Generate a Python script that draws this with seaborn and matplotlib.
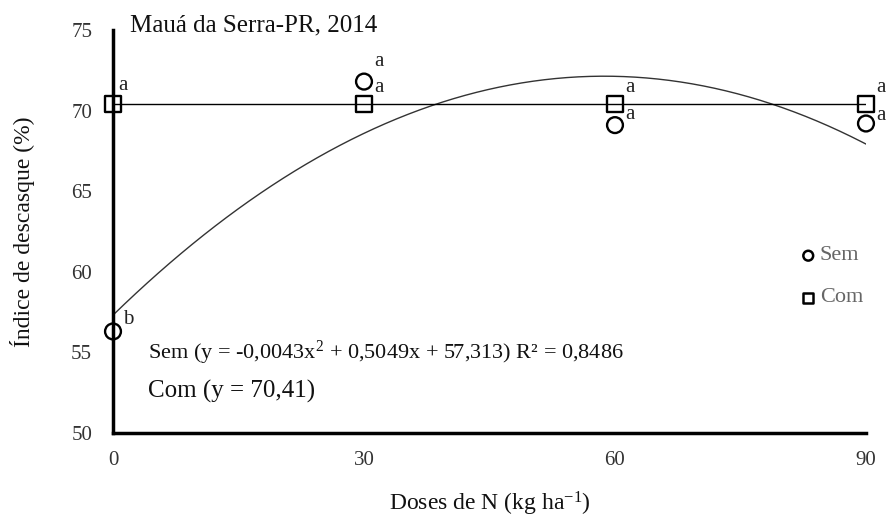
import numpy as np
import pandas as pd
import matplotlib.pyplot as plt
import seaborn as sns

doses = [0, 30, 60, 90]
sem = [56.3, 71.8, 69.1, 69.2]
com = [70.41, 70.41, 70.41, 70.41]
letras_sem = ['b', 'a', 'a', 'a']
letras_com = ['a', 'a', 'a', 'a']
coef_sem = [-0.0043, 0.5049, 57.313]
media_com = 70.41

df = pd.DataFrame({
    'Dose': doses * 2,
    'Indice': sem + com,
    'Manejo': ['Sem'] * 4 + ['Com'] * 4,
})

sns.set_theme(style="white")
plt.rcParams['font.family'] = ['Liberation Serif', 'DejaVu Serif']
plt.rcParams['mathtext.fontset'] = 'custom'
plt.rcParams['mathtext.rm'] = 'Liberation Serif'
plt.rcParams['mathtext.it'] = 'Liberation Serif'
plt.rcParams['mathtext.default'] = 'rm'

fig = plt.figure(figsize=(8.87, 5.19), dpi=100)
ax = fig.add_axes([0.1274, 0.1657, 0.8489, 0.7765])

xs = np.linspace(0, 90, 200)
ys = coef_sem[0] * xs**2 + coef_sem[1] * xs + coef_sem[2]
sns.lineplot(x=xs, y=ys, ax=ax, color='#333333', lw=1.0)
sns.lineplot(x=[0, 90], y=[media_com, media_com], ax=ax, color='black', lw=1.0)

sns.scatterplot(data=df, x='Dose', y='Indice', style='Manejo',
                markers={'Sem': 'o', 'Com': 's'}, s=130,
                facecolor='none', edgecolor='black', linewidth=1.7,
                ax=ax, clip_on=False, zorder=5, legend=False)

# letras de significancia
desloc_sem = [0.75, 1.25, 0.65, 0.5]
desloc_com = [1.15, 1.05, 1.05, 1.05]
for x, y, l, d in zip(doses, sem, letras_sem, desloc_sem):
    ax.text(x + 1.2, y + d, l, fontsize=15, ha='left', va='center', color='#222222')
for x, y, l, d in zip(doses, com, letras_com, desloc_com):
    ax.text(x + 0.6 if x == 0 else x + 1.2, y + d, l, fontsize=15, ha='left',
            va='center', color='#222222')

# legenda manual
ax.scatter([83.1], [61.0], marker='o', s=50, facecolor='none', edgecolor='black',
           lw=1.8, clip_on=False)
ax.text(84.5, 61.0, 'Sem', fontsize=16, color='#666666', va='center')
ax.scatter([83.1], [58.4], marker='s', s=50, facecolor='none', edgecolor='black',
           lw=1.8, clip_on=False)
ax.text(84.5, 58.4, 'Com', fontsize=16, color='#666666', va='center')

ax.text(4.2, 55.0, 'Sem (y = -0,0043x$^{2}$ + 0,5049x + 57,313) R² = 0,8486',
        fontsize=16, va='center', color='#111111')
ax.text(4.2, 52.6, 'Com (y = 70,41)', fontsize=18, va='center', color='#111111')
ax.text(2.0, 75.3, 'Mauá da Serra-PR, 2014', fontsize=18, va='center',
        color='#111111')

ax.set_xlim(0, 90)
ax.set_ylim(50, 75)
ax.set_xticks(doses)
ax.set_yticks([50, 55, 60, 65, 70, 75])
ax.tick_params(axis='x', labelsize=15, length=0, pad=13, labelcolor='#333333')
ax.tick_params(axis='y', labelsize=15, length=0, pad=15, labelcolor='#333333')
ax.set_xlabel('Doses de N (kg ha$^{-1}$)', fontsize=17, labelpad=14,
              color='#111111')
ax.set_ylabel('Índice de descasque (%)', fontsize=17, labelpad=26,
              color='#111111')

for s in ['top', 'right']:
    ax.spines[s].set_visible(False)
for s in ['left', 'bottom']:
    ax.spines[s].set_linewidth(2.5)
    ax.spines[s].set_color('black')

fig.savefig('out.png', dpi=100)
